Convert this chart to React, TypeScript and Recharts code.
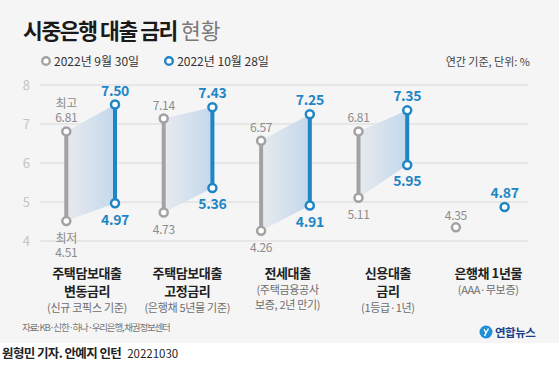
import { Area, CartesianGrid, ComposedChart, Scatter, XAxis, YAxis } from "recharts";

const categoryTitles = [["주택담보대출", "변동금리"], ["주택담보대출", "고정금리"], ["전세대출"], ["신용대출", "금리"], ["은행채 1년물"]];
const categoryNotes = [["(신규 코픽스 기준)"], ["(은행채 5년물 기준)"], ["(주택금융공사", "보증, 2년 만기)"], ["(1등급·1년)"], ["(AAA·무보증)"]];

const dates = ["2022년 9월 30일", "2022년 10월 28일"];
const sepHigh = [6.81, 7.14, 6.57, 6.81, 4.35];
const sepLow = [4.51, 4.73, 4.26, 5.11, null];
const octHigh = [7.5, 7.43, 7.25, 7.35, 4.87];
const octLow = [4.97, 5.36, 4.91, 5.95, null];
const yTicks = [4, 5, 6, 7, 8];
const extremeTags = { high: "최고", low: "최저" };

const FONT = '"Noto Sans CJK KR", "Noto Sans", sans-serif';
const GRAY = "#a2a2a2";
const BLUE = "#1e86c4";
const PAIR_GAP = 0.5;

const seriesDefs = [
  { high: sepHigh, low: sepLow, color: GRAY },
  { high: octHigh, low: octLow, color: BLUE },
];

// one row per dot column, used by the shaded bands
const bandRows = categoryTitles.flatMap((_, i) =>
  seriesDefs.map((s, si) => ({ x: i + si * PAIR_GAP, cat: i, low: s.low[i], high: s.high[i] })),
);

function pointsFor(cat: number, si: number) {
  const s = seriesDefs[si];
  const pts: any[] = [{ x: cat + si * PAIR_GAP, y: s.high[cat], kind: "high", si, cat }];
  if (s.low[cat] != null) pts.push({ x: cat + si * PAIR_GAP, y: s.low[cat], kind: "low", si, cat });
  return pts;
}

function PointMark(props: any) {
  const { cx, cy, payload } = props;
  if (cx == null || cy == null) return null;
  const blue = payload.si === 1;
  const color = blue ? BLUE : GRAY;
  const up = payload.kind === "high";
  const value = Number(payload.y).toFixed(2);
  const textProps = blue
    ? { fill: BLUE, fontWeight: 700, fontSize: 14 }
    : { fill: "#8c8c8c", fontSize: 12 };
  const lines: string[] = [];
  if (!blue && payload.cat === 0) {
    if (up) lines.push(extremeTags.high, value);
    else lines.push(extremeTags.low, value);
  } else {
    lines.push(value);
  }
  const single = payload.cat === 4;
  const step = 14.5;
  const firstDy = up
    ? -(single && !blue ? 13.5 : 15) - (lines.length - 1) * step
    : 15.5;
  return (
    <g>
      <circle cx={cx} cy={cy} r={4} fill="#fff" stroke={color} strokeWidth={2.5} />
      <text
        x={cx}
        y={cy + firstDy}
        textAnchor="middle"
        dominantBaseline="central"
        fontFamily={FONT}
        letterSpacing={-0.3}
        {...textProps}
      >
        {lines.map((t, k) => (
          <tspan key={k} x={cx} dy={k === 0 ? 0 : step}>
            {t}
          </tspan>
        ))}
      </text>
    </g>
  );
}

function LegendDot({ color }: { color: string }) {
  return (
    <svg width={12} height={12} style={{ display: "block" }}>
      <circle cx={6} cy={6} r={3.8} fill="#fff" stroke={color} strokeWidth={2.4} />
    </svg>
  );
}

export default function App() {
  return (
    <div style={{ position: "absolute", left: 0, top: 0, width: 559, height: 365, background: "#fff", fontFamily: FONT }}>
      <div style={{ position: "absolute", left: 0, top: 0, width: 559, height: 343, background: "#f5f5f5" }} />

      <div style={{ position: "absolute", left: 23, top: 17, lineHeight: "25px", fontSize: 21.5, whiteSpace: "nowrap" }}>
        <span style={{ fontWeight: 700, color: "#1a1a1a", letterSpacing: -1.4 }}>시중은행 대출 금리</span>
        <span style={{ color: "#7a7a7a", marginLeft: 4 }}>현황</span>
      </div>

      <div style={{ position: "absolute", left: 40, top: 52, display: "flex", alignItems: "center", fontSize: 12, color: "#333", whiteSpace: "nowrap", lineHeight: "18px" }}>
        <LegendDot color={GRAY} />
        <span style={{ marginLeft: 2 }}>{dates[0]}</span>
        <span style={{ width: 24 }} />
        <LegendDot color={BLUE} />
        <span style={{ marginLeft: 2 }}>{dates[1]}</span>
      </div>

      <div style={{ position: "absolute", right: 29, top: 52, fontSize: 11, color: "#444", lineHeight: "18px", whiteSpace: "nowrap" }}>
        연간 기준, 단위: %
      </div>

      <div style={{ position: "absolute", left: 0, top: 0 }}>
        <ComposedChart width={559} height={260} data={bandRows} margin={{ top: 85, right: 31, left: 0, bottom: 19 }}>
          <defs>
            <linearGradient id="band" x1="0" y1="0" x2="1" y2="0">
              <stop offset="0%" stopColor="#e8eaee" />
              <stop offset="100%" stopColor="#c3d8ec" />
            </linearGradient>
          </defs>
          <CartesianGrid vertical={false} stroke="#d9d9d9" />
          <XAxis type="number" dataKey="x" domain={[-0.27, 4.74]} hide />
          <YAxis
            type="number"
            domain={[4, 8]}
            ticks={yTicks}
            width={40}
            axisLine={false}
            tickLine={false}
            tickSize={0}
            tickMargin={10}
            tick={{ fill: "#c4c4c4", fontSize: 13, fontFamily: FONT }}
          />
          {categoryTitles.map((_, i) => (
            <Area
              key={`band-${i}`}
              type="linear"
              dataKey={(r: any) => (r.cat === i && r.low != null ? [r.low, r.high] : null)}
              stroke="none"
              fill="url(#band)"
              fillOpacity={1}
              dot={false}
              activeDot={false}
              isAnimationActive={false}
            />
          ))}
          {categoryTitles.map((_, i) =>
            seriesDefs.map((s, si) => (
              <Scatter
                key={`pts-${i}-${si}`}
                data={pointsFor(i, si)}
                dataKey="y"
                line={{ stroke: s.color, strokeWidth: 4 }}
                shape={PointMark}
                isAnimationActive={false}
              />
            )),
          )}
        </ComposedChart>
      </div>

      {categoryTitles.map((title, i) => (
        <div
          key={`cat-${i}`}
          style={{ position: "absolute", left: 87 + 100.3 * i - 65, top: 264, width: 130, textAlign: "center", whiteSpace: "nowrap" }}
        >
          {title.map((t) => (
            <div key={t} style={{ fontSize: 13, fontWeight: 700, color: "#222", lineHeight: "18px", letterSpacing: -0.4 }}>
              {t}
            </div>
          ))}
          {categoryNotes[i].map((t) => (
            <div key={t} style={{ fontSize: 11, color: "#6e6e6e", lineHeight: "15px", letterSpacing: -0.3 }}>
              {t}
            </div>
          ))}
        </div>
      ))}

      <div style={{ position: "absolute", left: 22, top: 320, fontSize: 9.5, color: "#777", lineHeight: "14px", letterSpacing: -1.2, whiteSpace: "nowrap" }}>
        자료: KB·신한·하나·우리은행, 채권정보센터
      </div>

      <div style={{ position: "absolute", left: 479, top: 324, display: "flex", alignItems: "center", whiteSpace: "nowrap" }}>
        <svg width={14} height={14} style={{ display: "block" }}>
          <circle cx={7} cy={7} r={6.5} fill="#1f8fd6" />
          <path d="M5 4 L7 8 L9.5 3.5 M7 8 L5.5 11" stroke="#fff" strokeWidth={1.4} fill="none" />
        </svg>
        <span style={{ marginLeft: 2, fontSize: 11.5, fontWeight: 700, color: "#1c3f8c", letterSpacing: -0.5 }}>연합뉴스</span>
      </div>

      <div style={{ position: "absolute", left: 2, top: 345, fontSize: 12.5, color: "#222", lineHeight: "16px", whiteSpace: "nowrap" }}>
        <span style={{ fontWeight: 700, letterSpacing: -0.6 }}>원형민 기자. 안예지 인턴</span>
        <span style={{ marginLeft: 6, fontSize: 11.5 }}>20221030</span>
      </div>
    </div>
  );
}
